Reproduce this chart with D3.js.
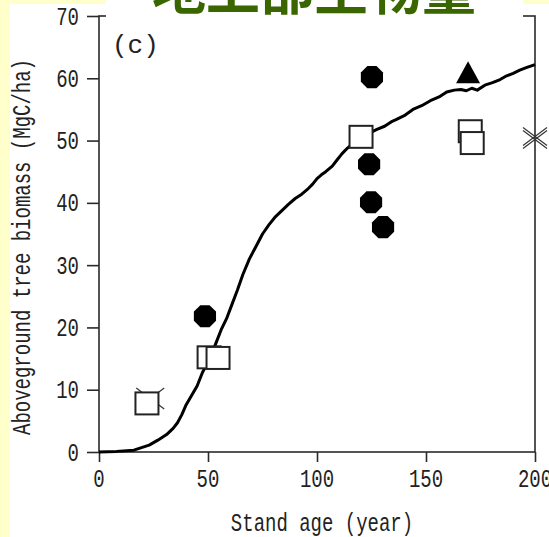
<!DOCTYPE html>
<html>
<head>
<meta charset="utf-8">
<script src="https://cdn.jsdelivr.net/npm/d3@7"></script>
<style>
  html, body { margin: 0; padding: 0; background: #ffffcc; }
  svg { display: block; }
  .tick-label, .axis-label { font-family: "Liberation Mono", monospace; fill: #222; }
</style>
</head>
<body>
<svg id="chart" width="549" height="537"></svg>
<script>
// model curve (stand age, biomass)
const curveAge = [0, 8, 16, 23, 27, 31, 34, 36, 38, 40, 43, 45, 47.5, 50, 52, 54, 56, 58.5, 61, 63.5, 66, 69, 72, 75, 78, 81, 84, 87, 90, 93, 96, 98, 100, 102, 104, 107, 109, 111.5, 114, 116,
  119, 121, 124, 127.5, 131, 134, 136.5, 140, 144, 148, 152, 156, 159.5, 163, 166, 168.5, 171, 173.5, 177, 180.5, 184, 187, 190, 193, 196, 200];
const curveVal = [0, 0.1, 0.3, 1.1, 1.9, 2.8, 3.8, 4.7, 6.0, 7.6, 9.4, 10.6, 12.8, 14.4, 16.0, 17.8, 19.6, 21.4, 23.7, 26.0, 28.5, 31.0, 33.0, 35.0, 36.5, 37.8, 38.8, 39.8, 40.7, 41.4, 42.3, 43.0, 43.9, 44.5, 45.0, 45.9, 46.8, 47.9, 48.8, 49.4,
  50.3, 50.8, 51.2, 51.8, 52.3, 53.0, 53.4, 54.0, 55.0, 55.6, 56.4, 57.0, 57.8, 58.1, 58.2, 58.0, 58.4, 58.1, 58.9, 59.3, 59.8, 60.4, 60.8, 61.3, 61.7, 62.2];

// observed plots
const circleAge = [48.6, 125.2, 123.9, 124.8, 130.3];
const circleVal = [21.8, 60.2, 46.2, 40.1, 36.1];
const squareAge = [22, 50.5, 54.6, 120.2, 170.3, 171.2];
const squareVal = [7.8, 15.2, 15.1, 50.6, 51.5, 49.6];
const triangleAge = [169.3];
const triangleVal = [60.8];
const crossAge = [23.5, 200];
const crossVal = [8.6, 50.4];

const xTicks = [0, 50, 100, 150, 200];
const yTicks = [0, 10, 20, 30, 40, 50, 60, 70];

const title = "地上部生物量";
const panelLabel = "(c)";
const xLabel = "Stand age (year)";
const yLabel = "Aboveground tree biomass (MgC/ha)";

const svg = d3.select("#chart");
const W = 549, H = 537;
const x = d3.scaleLinear().domain([0, 200]).range([99, 535]);
const y = d3.scaleLinear().domain([0, 70]).range([452, 16]);

// white page area
svg.append("rect").attr("x", 10).attr("y", 4).attr("width", W - 10).attr("height", H - 4).attr("fill", "#fff");

const axisColor = "#2a2a2a";
const sx = 0.76;

// frame
svg.append("rect")
  .attr("x", x(0)).attr("y", y(70))
  .attr("width", x(200) - x(0)).attr("height", y(0) - y(70))
  .attr("fill", "none").attr("stroke", axisColor).attr("stroke-width", 1.6);

// left axis ticks
const yAxis = d3.axisLeft(y).tickValues(yTicks).tickSize(12).tickFormat("");
svg.append("g").attr("transform", `translate(${x(0)},0)`).call(yAxis)
  .call(g => g.select(".domain").remove())
  .call(g => g.selectAll("line").attr("stroke", axisColor).attr("stroke-width", 1.6));

// bottom axis ticks
const xAxis = d3.axisBottom(x).tickValues(xTicks).tickSize(10).tickFormat("");
svg.append("g").attr("transform", `translate(0,${y(0)})`).call(xAxis)
  .call(g => g.select(".domain").remove())
  .call(g => g.selectAll("line").attr("stroke", axisColor).attr("stroke-width", 1.6));

// tick labels (narrow mono)
svg.append("g").selectAll("text").data(yTicks).join("text")
  .attr("class", "tick-label")
  .attr("font-size", 25)
  .attr("text-anchor", "end")
  .attr("transform", d => `translate(79,${y(d) + 8.5}) scale(${sx},1)`)
  .text(d => d);

svg.append("g").selectAll("text").data(xTicks).join("text")
  .attr("class", "tick-label")
  .attr("font-size", 25)
  .attr("text-anchor", "middle")
  .attr("transform", d => `translate(${x(d)},487) scale(${sx},1)`)
  .text(d => d);

svg.append("text").attr("class", "axis-label")
  .attr("font-size", 25).attr("text-anchor", "middle")
  .attr("transform", `translate(322,531) scale(${sx},1)`)
  .text(xLabel);

svg.append("text").attr("class", "axis-label")
  .attr("font-size", 25).attr("text-anchor", "middle")
  .attr("transform", `translate(30,247) rotate(-90) scale(${sx},1)`)
  .text(yLabel);

svg.append("text").attr("class", "axis-label")
  .attr("font-size", 26)
  .attr("x", 112).attr("y", 53)
  .text(panelLabel);

// model line
const line = d3.line().x((d, i) => x(curveAge[i])).y(d => y(d));
svg.append("path").datum(curveVal)
  .attr("d", line)
  .attr("fill", "none").attr("stroke", "#000").attr("stroke-width", 3)
  .attr("stroke-linejoin", "round");

// cross markers (double-stroked X)
const crossG = svg.append("g");
crossAge.forEach((a, i) => {
  const cx = x(a), cy = y(crossVal[i]), r = i === 0 ? 14 : 12;
  const offs = i === 0 ? [0] : [-1.5, 1.5];
  offs.forEach(o => {
    crossG.append("line").attr("x1", cx - r).attr("y1", cy - r * 0.75 + o).attr("x2", cx + r).attr("y2", cy + r * 0.75 + o)
      .attr("stroke", "#333").attr("stroke-width", 1.2);
    crossG.append("line").attr("x1", cx - r).attr("y1", cy + r * 0.75 + o).attr("x2", cx + r).attr("y2", cy - r * 0.75 + o)
      .attr("stroke", "#333").attr("stroke-width", 1.2);
  });
});

// open squares
svg.append("g").selectAll("rect").data(squareVal).join("rect")
  .attr("x", (d, i) => x(squareAge[i]) - 11.5)
  .attr("y", d => y(d) - 11)
  .attr("width", 23).attr("height", 22)
  .attr("fill", "#fff").attr("stroke", "#222").attr("stroke-width", 2);

// filled octagon circles
const octagon = d3.range(8).map(k => {
  const t = Math.PI / 8 + k * Math.PI / 4;
  return [Math.cos(t) * 12, Math.sin(t) * 12];
});
svg.append("g").selectAll("path").data(circleVal).join("path")
  .attr("transform", (d, i) => `translate(${x(circleAge[i])},${y(d)})`)
  .attr("d", "M" + octagon.join("L") + "Z")
  .attr("fill", "#000");

// triangle
svg.append("g").selectAll("path").data(triangleVal).join("path")
  .attr("transform", (d, i) => `translate(${x(triangleAge[i])},${y(d)})`)
  .attr("d", "M0,-12L12,10L-12,10Z")
  .attr("fill", "#000");

// title box covering top of frame
svg.append("rect").attr("x", 106).attr("y", 0).attr("width", 417).attr("height", 19).attr("fill", "#fff");
svg.append("text")
  .attr("x", 314).attr("y", 10)
  .attr("text-anchor", "middle")
  .attr("font-family", "'Noto Sans CJK JP', sans-serif")
  .attr("font-weight", "bold")
  .attr("font-size", 54)
  .attr("fill", "#3a6600")
  .text(title);
</script>
</body>
</html>
